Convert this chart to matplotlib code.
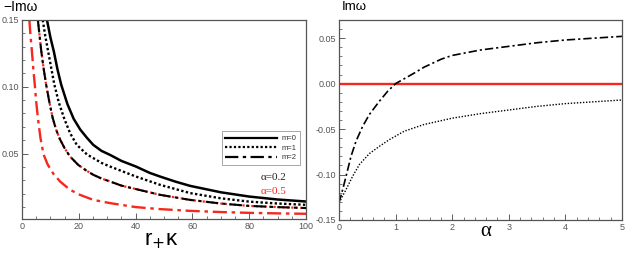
import numpy as np
import matplotlib.pyplot as plt
from matplotlib.ticker import MultipleLocator

# left panel: -Im(omega) vs r_+ kappa
r_m0_a02 = [8.8, 10, 11.2, 12.5, 13.8, 16, 18.2, 20.5, 22.9, 25.1, 28, 31, 35, 40.1,
            45, 48.6, 54, 59.2, 70, 80, 90, 100]
w_m0_a02 = [0.150, 0.137, 0.1266, 0.113, 0.1016, 0.087, 0.076, 0.068, 0.0617, 0.0565,
            0.052, 0.049, 0.0445, 0.0403, 0.0355, 0.0328, 0.029, 0.0258, 0.021, 0.0178,
            0.0156, 0.0141]

r_m1_a02 = [7.3, 8.2, 9.2, 10.3, 11.4, 13, 14.9, 17, 19.3, 22.9, 25.1, 28, 31, 35,
            40.1, 48.6, 59.2, 70, 80, 90, 100]
w_m1_a02 = [0.150, 0.138, 0.1266, 0.114, 0.1016, 0.088, 0.076, 0.065, 0.0565, 0.0493,
            0.0466, 0.043, 0.0403, 0.037, 0.0328, 0.0266, 0.0204, 0.0165, 0.014,
            0.0126, 0.0116]

r_m2_a02 = [5.6, 6.2, 6.8, 7.6, 8.5, 9.6, 10.8, 12, 13.3, 15, 16.9, 19.8, 22.5, 25.1,
            28, 31, 35, 40.1, 48.6, 59.2, 70, 80, 90, 100]
w_m2_a02 = [0.150, 0.138, 0.1266, 0.114, 0.1016, 0.089, 0.0767, 0.068, 0.061, 0.054,
            0.0478, 0.0415, 0.0375, 0.0341, 0.0313, 0.0291, 0.026, 0.0234, 0.0191,
            0.0153, 0.0126, 0.0108, 0.0099, 0.0092]

r_m2_a05 = [2.6, 3.0, 3.5, 4.0, 4.5, 5.0, 5.6, 6.5, 7.6, 9, 11, 13.4, 16.9, 20.4, 25.1,
            31, 40.1, 48.6, 59.2, 70, 80, 90, 100]
w_m2_a05 = [0.150, 0.138, 0.1266, 0.113, 0.1016, 0.089, 0.0767, 0.0617, 0.0493, 0.042,
            0.035, 0.0291, 0.0229, 0.0191, 0.0153, 0.0129, 0.0099, 0.0084, 0.0071,
            0.0062, 0.0056, 0.0052, 0.0049]

# right panel: Im(omega) vs alpha
a_dd = [0, 0.065, 0.124, 0.212, 0.30, 0.418, 0.536, 0.713, 0.86, 1.0, 1.34, 1.5,
        1.81, 2, 2.5, 3, 3.5, 4, 4.5, 5]
w_dd = [-0.131, -0.1166, -0.102, -0.080, -0.0634, -0.047, -0.034, -0.0194, -0.0084,
        0.0, 0.012, 0.018, 0.027, 0.031, 0.037, 0.041, 0.045, 0.048, 0.050, 0.052]

a_dot = [0, 0.124, 0.24, 0.36, 0.536, 0.713, 0.89, 1.15, 1.5, 2, 2.5, 3, 3.5, 4,
         4.5, 5]
w_dot = [-0.131, -0.1166, -0.102, -0.089, -0.077, -0.069, -0.0616, -0.0524, -0.045,
         -0.038, -0.033, -0.029, -0.025, -0.022, -0.020, -0.018]

RED = '#f5281e'
plt.rcParams['font.family'] = ['Liberation Sans', 'DejaVu Sans']

fig = plt.figure(figsize=(6.3, 2.54), dpi=100)
ax1 = fig.add_axes([0.0349, 0.1378, 0.4508, 0.7835])
ax2 = fig.add_axes([0.5381, 0.1339, 0.4492, 0.7874])

dd = (0, (6, 2, 1.5, 2))
ax1.plot(r_m2_a05, w_m2_a05, color=RED, lw=1.7, linestyle=dd)
ax1.plot(r_m2_a02, w_m2_a02, color=RED, lw=1.6, linestyle=(0, (1, 1)))
ax1.plot(r_m2_a02, w_m2_a02, color='black', lw=1.5, linestyle=dd)
ax1.plot(r_m1_a02, w_m1_a02, color='black', lw=1.7, linestyle=(0, (1, 1)))
ax1.plot(r_m0_a02, w_m0_a02, color='black', lw=1.8)

# legend proxies
h0, = ax1.plot([], [], color='black', lw=1.6, label='m=0')
h1, = ax1.plot([], [], color='black', lw=1.6, linestyle=(0, (1, 1)), label='m=1')
h2, = ax1.plot([], [], color='black', lw=1.6, linestyle=dd, label='m=2')
leg = ax1.legend(handles=[h0, h1, h2], loc='upper left',
                 bbox_to_anchor=(0.703, 0.44), fontsize=5.5, handlelength=6.8,
                 fancybox=False, framealpha=1, borderpad=0.45, labelspacing=0.3,
                 handletextpad=0.6, borderaxespad=0)
leg.get_frame().set_edgecolor('#999999')
leg.get_frame().set_linewidth(0.6)
for t in leg.get_texts():
    t.set_color('#333333')

ax1.text(0.84, 0.207, '\u03b1=0.2', transform=ax1.transAxes, color='#222222',
         fontsize=8, family='Liberation Serif', va='center')
ax1.text(0.84, 0.14, '\u03b1=0.5', transform=ax1.transAxes, color=RED,
         fontsize=8, family='Liberation Serif', va='center')

ax1.set_xlim(0, 100)
ax1.set_ylim(0.001, 0.15)
ax1.xaxis.set_major_locator(MultipleLocator(20))
ax1.xaxis.set_minor_locator(MultipleLocator(5))
ax1.yaxis.set_minor_locator(MultipleLocator(0.01))
ax1.set_yticks([0.05, 0.10, 0.15])
ax1.set_yticklabels(['0.05', '0.10', '0.15'])

ax2.axhline(0, color=RED, lw=1.7)
ax2.plot(a_dd, w_dd, color='black', lw=1.2, linestyle=(0, (5, 1.8, 1.3, 1.8)))
ax2.plot(a_dot, w_dot, color='black', lw=1.0, linestyle=(0, (1, 1.2)))
ax2.set_xlim(0, 5)
ax2.set_ylim(-0.15, 0.07)
ax2.xaxis.set_major_locator(MultipleLocator(1))
ax2.xaxis.set_minor_locator(MultipleLocator(0.2))
ax2.set_yticks([-0.15, -0.10, -0.05, 0.0, 0.05])
ax2.set_yticklabels(['-0.15', '-0.10', '-0.05', '0.00', '0.05'])
ax2.yaxis.set_minor_locator(MultipleLocator(0.01))

for ax in (ax1, ax2):
    ax.tick_params(which='both', direction='in', top=False, right=False,
                   labelsize=6.5, labelcolor='#555555', color='#444444', pad=2)
    ax.tick_params(which='major', length=4, width=0.6)
    ax.tick_params(which='minor', length=2, width=0.5)
    for s in ax.spines.values():
        s.set_color('#555555')
        s.set_linewidth(0.9)

fig.text(0.006, 0.972, '\u2212Im\u03c9', fontsize=10, va='center', ha='left')
fig.text(0.543, 0.972, 'Im\u03c9', fontsize=9.5, va='center', ha='left')
fig.text(0.256, 0.055, 'r$_{+}$\u03ba', fontsize=16, va='center', ha='center')
fig.text(0.771, 0.087, '\u03b1', fontsize=15, va='center', ha='center',
         family='Liberation Serif')

fig.savefig('out.png', dpi=100)
